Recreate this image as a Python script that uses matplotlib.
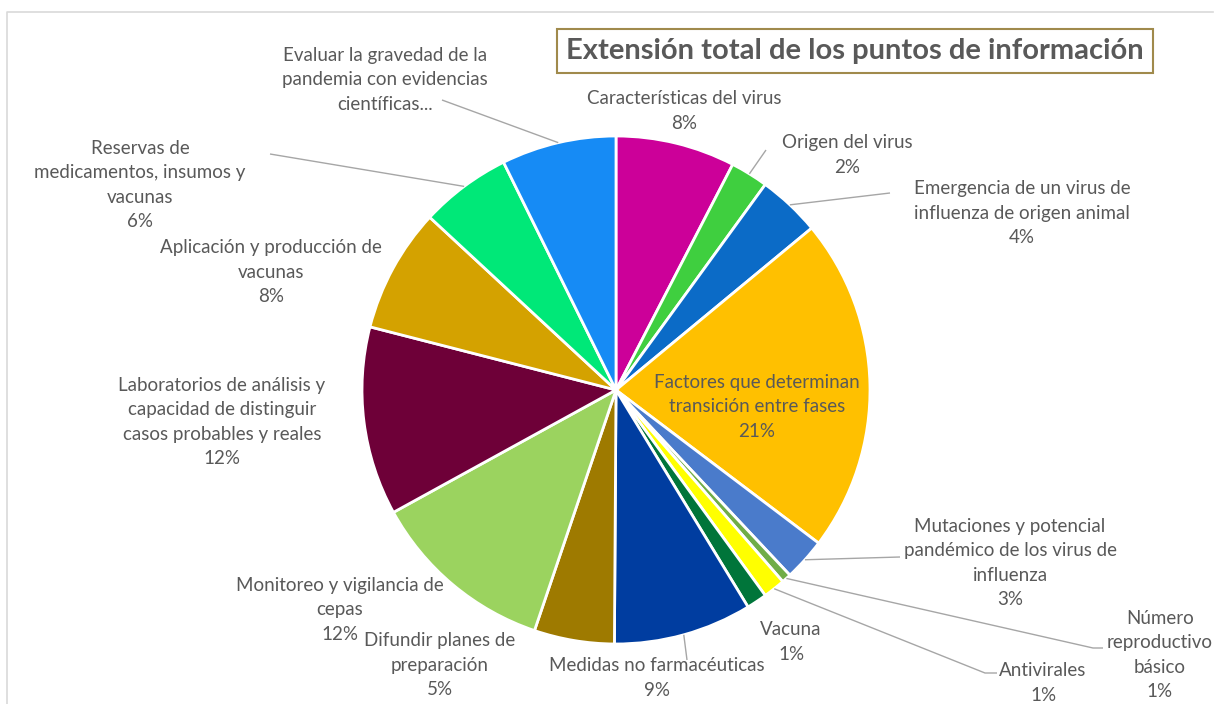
import numpy as np
import matplotlib.pyplot as plt
from matplotlib.patches import Rectangle

W, H = 1215, 704

# slices, clockwise from 12 o'clock
names = ['Características del virus',
         'Origen del virus',
         'Emergencia de un virus de\ninfluenza de origen animal',
         'Factores que determinan\ntransición entre fases',
         'Mutaciones y potencial\npandémico de los virus de\ninfluenza',
         'Número\nreproductivo\nbásico',
         'Antivirales',
         'Vacuna',
         'Medidas no farmacéuticas',
         'Difundir planes de\npreparación',
         'Monitoreo y vigilancia de\ncepas',
         'Laboratorios de análisis y\ncapacidad de distinguir\ncasos probables y reales',
         'Aplicación y producción de\nvacunas',
         'Reservas de\nmedicamentos, insumos y\nvacunas',
         'Evaluar la gravedad de la\npandemia con evidencias\ncientíficas...']
shares = [7.6, 2.4, 4.0, 21.3, 2.7, 0.6, 1.4, 1.3, 8.8, 5.1, 11.8, 12.0, 7.9, 5.8, 7.3]
show_pct = [True] * 14 + [False]
colors = ['#CC0099', '#3FCF3F', '#0B6BC7', '#FFC000', '#4A7BCB', '#70AD47', '#FFFF00',
          '#00753A', '#003DA0', '#9E7A00', '#9BD35F', '#6E0038', '#D4A200', '#00E878', '#168BF5']

# label centres (px from top-left) and leader waypoints from label side
label_pos = [(684, 111), (847, 155), (1022, 213), (757, 407), (1010, 563), (1160, 655),
             (1043, 683), (791, 642), (657, 678), (440, 665), (340, 610), (222, 422),
             (271, 272), (140, 185), (385, 80)]
leaders = {1: [(766, 150)], 2: [(890, 193)], 4: [(900, 557)], 5: [(1103, 648), (1093, 648)],
           6: [(997, 673), (985, 673)], 8: [(687, 660)], 13: [(270, 154)], 14: [(442, 100)]}

TXT = '#595959'
plt.rcParams['font.family'] = ['Lato', 'DejaVu Sans']

fig = plt.figure(figsize=(W / 100, H / 100), dpi=100)
ax = fig.add_axes([0, 0, 1, 1])

cx, cy, r = 616, H - 390, 254
wedges, _ = ax.pie(shares, colors=colors, startangle=90, counterclock=False,
                   center=(cx, cy), radius=r, frame=True,
                   wedgeprops=dict(edgecolor='white', linewidth=2))
ax.set_xlim(0, W)
ax.set_ylim(0, H)
ax.set_aspect('equal')
ax.axis('off')

for i, w in enumerate(wedges):
    text = names[i]
    if show_pct[i]:
        text += '\n%.0f%%' % shares[i]
    lx, ly = label_pos[i]
    ax.text(lx, H - ly, text, ha='center', va='center', color=TXT, fontsize=13.5,
            linespacing=1.52)
    if i in leaders:
        mid = np.deg2rad((w.theta1 + w.theta2) / 2)
        pts = [(x, H - y) for x, y in leaders[i]]
        pts.append((cx + r * np.cos(mid), cy + r * np.sin(mid)))
        xs, ys = zip(*pts)
        ax.plot(xs, ys, color='#A6A6A6', lw=1, solid_capstyle='butt')

# title box
ax.add_patch(Rectangle((557, H - 73), 596, 44, fill=False, edgecolor='#A08A4C', lw=1.5))
ax.text(855, H - 51, 'Extensión total de los puntos de información', ha='center', va='center',
        color=TXT, fontsize=21, fontweight='bold')

# chart area frame
ax.plot([7, 7, W - 2], [-5, H - 12, H - 12], color='#D9D9D9', lw=1.2)

fig.savefig('out.png', dpi=100, facecolor='white')
